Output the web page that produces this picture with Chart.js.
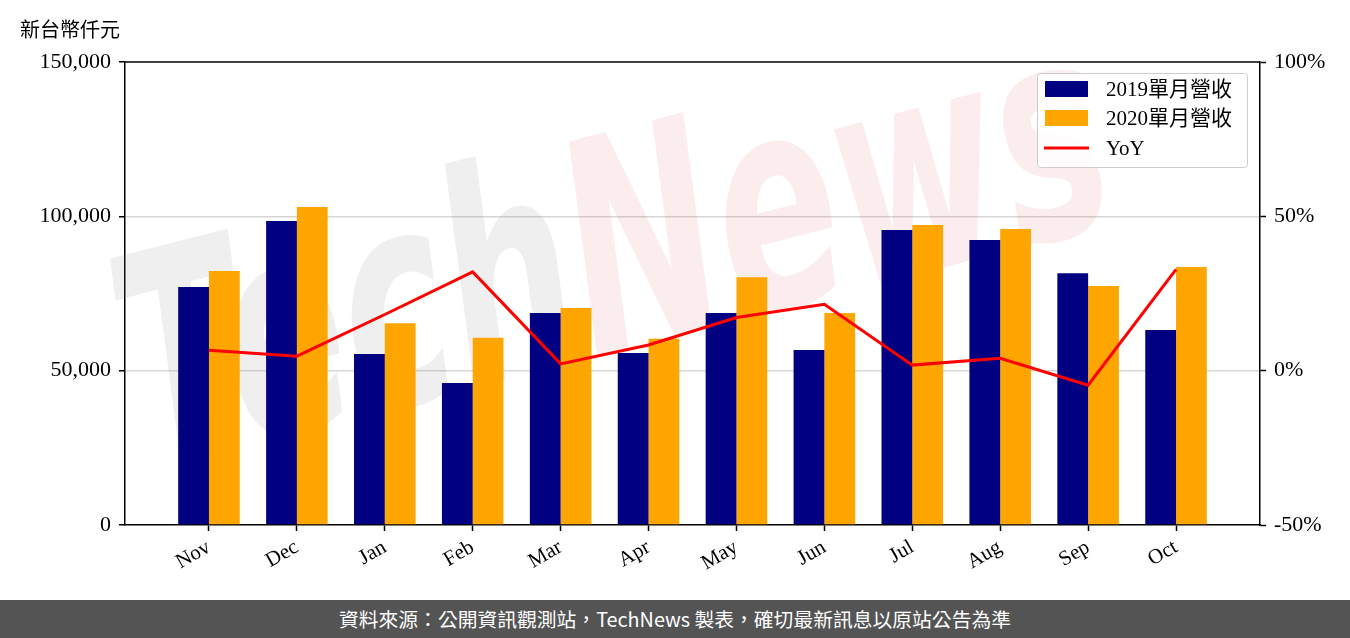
<!DOCTYPE html>
<html>
<head>
<meta charset="utf-8">
<script src="https://cdn.jsdelivr.net/npm/chart.js@4.4.0/dist/chart.umd.min.js"></script>
<style>
  body { margin: 0; background: #fff; }
  #wrap { position: relative; width: 1350px; height: 638px; overflow: hidden; }
  #unit { position: absolute; left: 20px; top: 14px; font: 20px "Liberation Serif", "Noto Sans CJK TC", serif; color: #000; }
  #footer { position: absolute; left: 0; top: 600px; width: 1350px; height: 38px; background: #545454;
            color: #fff; font: 19.8px "Noto Sans CJK TC", "Noto Sans", sans-serif; text-align: center; line-height: 38px; }
  canvas { position: absolute; left: 0; top: 0; }
</style>
</head>
<body>
<div id="wrap">
  <canvas id="chart" width="1350" height="600"></canvas>
  <div id="unit">新台幣仟元</div>
  <div id="footer">資料來源：公開資訊觀測站，TechNews 製表，確切最新訊息以原站公告為準</div>
</div>
<script>
const months = ['Nov', 'Dec', 'Jan', 'Feb', 'Mar', 'Apr', 'May', 'Jun', 'Jul', 'Aug', 'Sep', 'Oct']
const rev2019 = [77100, 98500, 55400, 46000, 68700, 55700, 68700, 56700, 95600, 92300, 81600, 63200]
const rev2020 = [82300, 103000, 65400, 60700, 70300, 60300, 80300, 68700, 97200, 95900, 77400, 83600]
const yoy = [6.6, 4.7, 18.2, 32.0, 2.2, 8.3, 17.2, 21.5, 1.8, 4.0, -4.7, 32.8]
const leftTicks = [0, 50000, 100000, 150000]
const rightTicks = [-50, 0, 50, 100]
const seriesNames = ['2019單月營收', '2020單月營收', 'YoY']

const FONT = '"Liberation Serif", "Noto Sans CJK TC", serif'

const toPoints = arr => arr.map((v, i) => ({ x: i, y: v }))

// box around plot, watermark and legend box
const decor = {
    id: 'decor',
    beforeDatasetsDraw(chart) {
        const { ctx } = chart
        ctx.save()
        ctx.translate(150, 470)
        ctx.rotate(-0.25)
        ctx.scale(0.95, 1.55)
        ctx.font = 'italic bold 190px "DejaVu Sans"'
        ctx.textBaseline = 'alphabetic'
        ctx.fillStyle = 'rgba(120,120,120,0.12)'
        ctx.fillText('Tech', 0, 0)
        const w = ctx.measureText('Tech').width
        ctx.fillStyle = 'rgba(220,90,90,0.11)'
        ctx.fillText('News', w, 0)
        ctx.restore()
    },
    afterDraw(chart) {
        const { ctx, chartArea: a } = chart
        ctx.save()
        ctx.strokeStyle = '#000'
        ctx.lineWidth = 1.5
        ctx.beginPath()
        ctx.moveTo(a.left, a.top)
        ctx.lineTo(a.right, a.top)
        ctx.stroke()

        // legend
        const x = 1037, y = 73, w = 210, h = 94
        ctx.fillStyle = 'rgba(255,255,255,0.85)'
        ctx.strokeStyle = '#cccccc'
        ctx.lineWidth = 1
        ctx.beginPath()
        ctx.roundRect(x + 0.5, y + 0.5, w, h, 3)
        ctx.fill()
        ctx.stroke()
        const rows = [89, 118, 148]
        chart.data.datasets.forEach((ds, i) => {
            if (ds.type === 'line') {
                ctx.strokeStyle = ds.borderColor
                ctx.lineWidth = 3
                ctx.beginPath()
                ctx.moveTo(1044, rows[i])
                ctx.lineTo(1089, rows[i])
                ctx.stroke()
            } else {
                ctx.fillStyle = ds.backgroundColor
                ctx.fillRect(1045, rows[i] - 8, 43, 16)
            }
            ctx.fillStyle = '#000'
            ctx.font = '21px ' + FONT
            ctx.textBaseline = 'middle'
            ctx.fillText(ds.label, 1106, rows[i] + 1)
        })
        ctx.restore()
    }
}

new Chart(document.getElementById('chart'), {
    type: 'bar',
    data: {
        datasets: [
            { label: seriesNames[0], data: toPoints(rev2019), backgroundColor: '#000080', yAxisID: 'y', order: 2 },
            { label: seriesNames[1], data: toPoints(rev2020), backgroundColor: '#ffa500', yAxisID: 'y', order: 2 },
            { type: 'line', label: seriesNames[2], data: toPoints(yoy), borderColor: '#ff0000', borderWidth: 3,
              pointRadius: 0, tension: 0, yAxisID: 'y1', order: 1 },
        ],
    },
    options: {
        responsive: false,
        animation: false,
        devicePixelRatio: 1,
        categoryPercentage: 0.7,
        barPercentage: 1.0,
        layout: { padding: { top: 62, left: 0, right: 0, bottom: 0 } },
        plugins: { legend: { display: false }, tooltip: { enabled: false } },
        scales: {
            x: {
                type: 'linear',
                offset: false,
                min: -0.955,
                max: 11.955,
                afterBuildTicks: s => { s.ticks = months.map((m, i) => ({ value: i })) },
                afterFit: s => { s.height = 75 },
                grid: { drawOnChartArea: false, offset: false, tickLength: 6, tickColor: '#000', tickWidth: 1.5 },
                border: { display: true, color: '#000', width: 1.5 },
                ticks: {
                    callback: v => months[v],
                    minRotation: 30, maxRotation: 30,
                    color: '#000', font: { family: FONT, size: 21 }, padding: 4,
                },
            },
            y: {
                position: 'left',
                min: 0, max: 150000,
                afterBuildTicks: s => { s.ticks = leftTicks.map(v => ({ value: v })) },
                afterFit: s => { s.width = 125 },
                grid: {
                    color: c => (c.tick && c.tick.value > 0 && c.tick.value < 150000) ? '#d6d6d6' : 'rgba(0,0,0,0)',
                    lineWidth: 1.5, tickLength: 6, tickColor: '#000', tickWidth: 1.5,
                },
                border: { display: true, color: '#000', width: 1.5 },
                ticks: {
                    callback: v => v.toLocaleString('en-US'),
                    color: '#000', font: { family: FONT, size: 22 }, padding: 8,
                },
            },
            y1: {
                position: 'right',
                min: -50, max: 100,
                afterBuildTicks: s => { s.ticks = rightTicks.map(v => ({ value: v })) },
                afterFit: s => { s.width = 90 },
                grid: { drawOnChartArea: false, tickLength: 6, tickColor: '#000', tickWidth: 1.5 },
                border: { display: true, color: '#000', width: 1.5 },
                ticks: {
                    callback: v => v + '%',
                    color: '#000', font: { family: FONT, size: 22 }, padding: 8,
                },
            },
        },
    },
    plugins: [decor],
})
</script>
</body>
</html>
